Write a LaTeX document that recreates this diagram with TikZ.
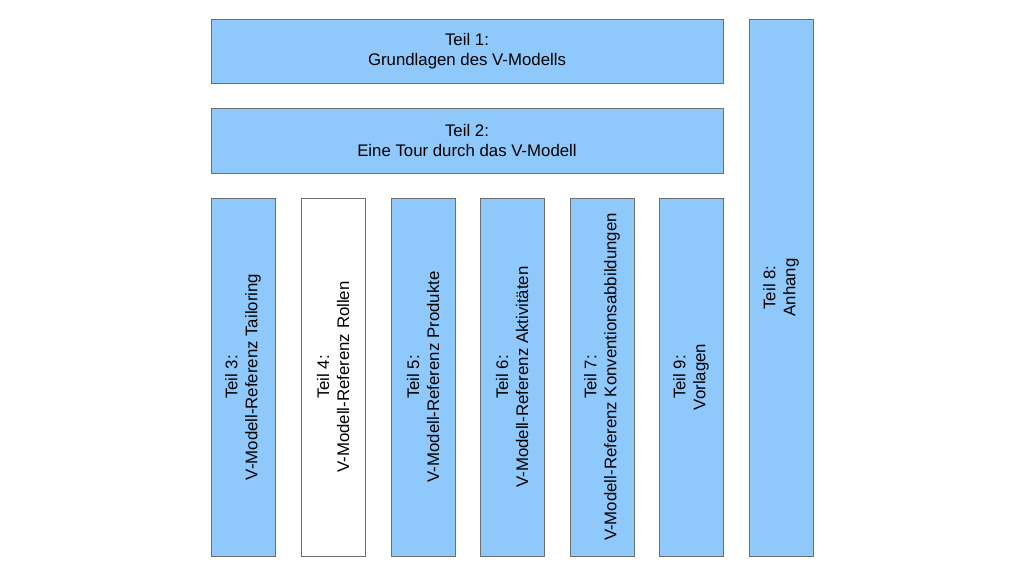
\documentclass[tikz,border=0pt]{standalone}
\usepackage{fontspec}
\setmainfont{Liberation Sans}
\definecolor{boxblue}{RGB}{143,200,250}
\definecolor{boxline}{RGB}{110,110,110}
\begin{document}
\begin{tikzpicture}[x=1pt,y=-1pt,
  lbl/.style={align=center,font=\fontsize{16.8}{20}\selectfont},
  part/.style={draw=boxline,line width=1pt,fill=boxblue,inner sep=0pt,lbl},
  partw/.style={part,fill=white}]
\useasboundingbox (0,0) rectangle (1024,576);
\node[part,minimum width=512pt,minimum height=64pt] (t1) at (467,51) {Teil 1:\\Grundlagen des V-Modells};
\node[part,minimum width=512pt,minimum height=65pt] (t2) at (467,140.5) {Teil 2:\\Eine Tour durch das V-Modell};
\node[part,minimum width=64pt,minimum height=537pt] (t8) at (781,287.5) {};
\node[rotate=90,lbl] (t8l) at (t8.center) {Teil 8:\\Anhang};
\foreach \n/\x/\s/\txt in {t3/243/part/{Teil 3:\\V-Modell-Referenz Tailoring},
  t4/333/partw/{Teil 4:\\V-Modell-Referenz Rollen},
  t5/423/part/{Teil 5:\\V-Modell-Referenz Produkte},
  t6/512/part/{Teil 6:\\V-Modell-Referenz Aktivitäten},
  t7/602/part/{Teil 7:\\V-Modell-Referenz Konventionsabbildungen},
  t9/691/part/{Teil 9:\\Vorlagen}}{
  \node[\s,minimum width=64pt,minimum height=358pt] (\n) at (\x,377) {};
  \node[rotate=90,lbl] (\n l) at (\n.center) {\txt};
}
\end{tikzpicture}
\end{document}
